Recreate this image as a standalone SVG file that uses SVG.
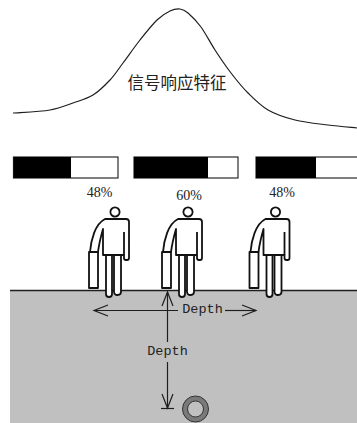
<svg xmlns="http://www.w3.org/2000/svg" xmlns:xlink="http://www.w3.org/1999/xlink" width="357" height="423" viewBox="0 0 357 423">
  <style>
    .ink { fill: none; stroke: #1e1e1e; stroke-width: 1.2; }
    .bar { fill: #ffffff; stroke: #2a2a2a; stroke-width: 1.2; }
    .barfill { fill: #000000; }
    .pct { font-family: "Liberation Serif", "DejaVu Serif", serif; font-size: 14px; fill: #222; text-anchor: middle; }
    .dim { font-family: "Liberation Mono", "DejaVu Sans Mono", monospace; font-size: 13.5px; fill: #222; text-anchor: middle; }
    .title { font-family: "Noto Sans CJK SC", "Noto Sans", sans-serif; font-size: 16.5px; fill: #222; text-anchor: middle; }
    .fig { fill: #ffffff; stroke: #111; stroke-width: 1.8; stroke-linejoin: round; }
  </style>
  <defs>
    <!-- open V arrowhead -->
    <marker id="vee" viewBox="-16 -7 18 14" refX="0" refY="0" markerWidth="18" markerHeight="14" markerUnits="userSpaceOnUse" orient="auto-start-reverse">
      <path d="M-14,-5.5 L0,0 L-14,5.5" fill="none" stroke="#1e1e1e" stroke-width="1.2"/>
    </marker>
    <!-- walking person carrying a case; origin at head centre -->
    <g id="walker">
      <rect class="fig" x="-9" y="36" width="6" height="49" rx="3"/>
      <rect class="fig" x="-1" y="36" width="7" height="47" rx="3.2"/>
      <path class="fig" d="M-10,7 L11,7 Q14,7 14,10 L14,46 Q14,48 12,48 L11,48 Q9,48 9,46 L9,43 L-12,43 L-12,17 C-14,24 -16,32 -17,40 L-25,40 C-24,28 -20,12 -10,7 Z"/>
      <path class="fig" d="M9,20 L9,43" fill="none"/>
      <rect class="fig" x="-26" y="40" width="9" height="36"/>
      <circle class="fig" cx="0" cy="0" r="4.6"/>
    </g>
  </defs>

  <rect width="357" height="423" fill="#ffffff"/>

  <!-- response curve -->
  <g id="curve">
    <path class="ink" d="M13,113 C19.2,112.5 40,111.7 50,110 C60,108.3 65.8,105.5 73,103 C80.2,100.5 86.8,98.8 93,95 C99.2,91.2 105,85.3 110,80 C115,74.7 118,69.7 123,63 C128,56.3 134.3,47.2 140,40 C145.7,32.8 152,24.8 157,20 C162,15.2 166.2,12.8 170,11 C173.8,9.2 177,8.7 180,9 C183,9.3 184.5,10 188,13 C191.5,16 196.5,20.8 201,27 C205.5,33.2 210,42.3 215,50 C220,57.7 225.5,65.8 231,73 C236.5,80.2 241.8,86.8 248,93 C254.2,99.2 260.2,105.5 268,110 C275.8,114.5 285,117.5 295,120 C305,122.5 317.7,123.7 328,125 C338.3,126.3 352.2,127.5 357,128"/>
    <text class="title" x="177" y="89">信号响应特征</text>
  </g>

  <!-- ground -->
  <g id="ground">
    <rect x="10" y="290" width="347" height="133" fill="#c0c0c0"/>
    <line x1="10" y1="290.5" x2="357" y2="290.5" stroke="#1e1e1e" stroke-width="1.5"/>
  </g>

  <!-- signal bars -->
  <g id="bar-1">
    <rect class="bar" x="13.5" y="157" width="104.5" height="21"/>
    <rect class="barfill" x="13.5" y="157" width="57.5" height="21"/>
    <text class="pct" x="99.5" y="197">48%</text>
  </g>
  <g id="bar-2">
    <rect class="bar" x="134" y="157" width="104" height="21"/>
    <rect class="barfill" x="134" y="157" width="74" height="21"/>
    <text class="pct" x="189" y="200">60%</text>
  </g>
  <g id="bar-3">
    <rect class="bar" x="256" y="157" width="106" height="21"/>
    <rect class="barfill" x="256" y="157" width="60" height="21"/>
    <text class="pct" x="282" y="197">48%</text>
  </g>

  <!-- operators -->
  <g id="person-1"><use xlink:href="#walker" href="#walker" transform="translate(115,212)"/></g>
  <g id="person-2"><use xlink:href="#walker" href="#walker" transform="translate(188,212)"/></g>
  <g id="person-3"><use xlink:href="#walker" href="#walker" transform="translate(275.5,212)"/></g>

  <!-- buried pipe -->
  <g id="pipe">
    <circle cx="195.5" cy="409" r="10.5" fill="none" stroke="#7a7a7a" stroke-width="5"/>
    <circle cx="195.5" cy="409" r="13" fill="none" stroke="#333" stroke-width="1"/>
    <circle cx="195.5" cy="409" r="8" fill="none" stroke="#333" stroke-width="1"/>
  </g>

  <!-- dimension connectors -->
  <g id="connectors">
    <line class="ink" x1="94" y1="310.5" x2="178" y2="310.5" marker-start="url(#vee)"/>
    <line class="ink" x1="225" y1="310.5" x2="256" y2="310.5" marker-end="url(#vee)"/>
    <text class="dim" x="202.5" y="313">Depth</text>
    <line class="ink" x1="167.5" y1="292" x2="167.5" y2="342" marker-start="url(#vee)"/>
    <line class="ink" x1="167.5" y1="362" x2="167.5" y2="408" marker-end="url(#vee)"/>
    <line class="ink" x1="161" y1="408.5" x2="174" y2="408.5"/>
    <text class="dim" x="167.5" y="354.5">Depth</text>
  </g>
</svg>
